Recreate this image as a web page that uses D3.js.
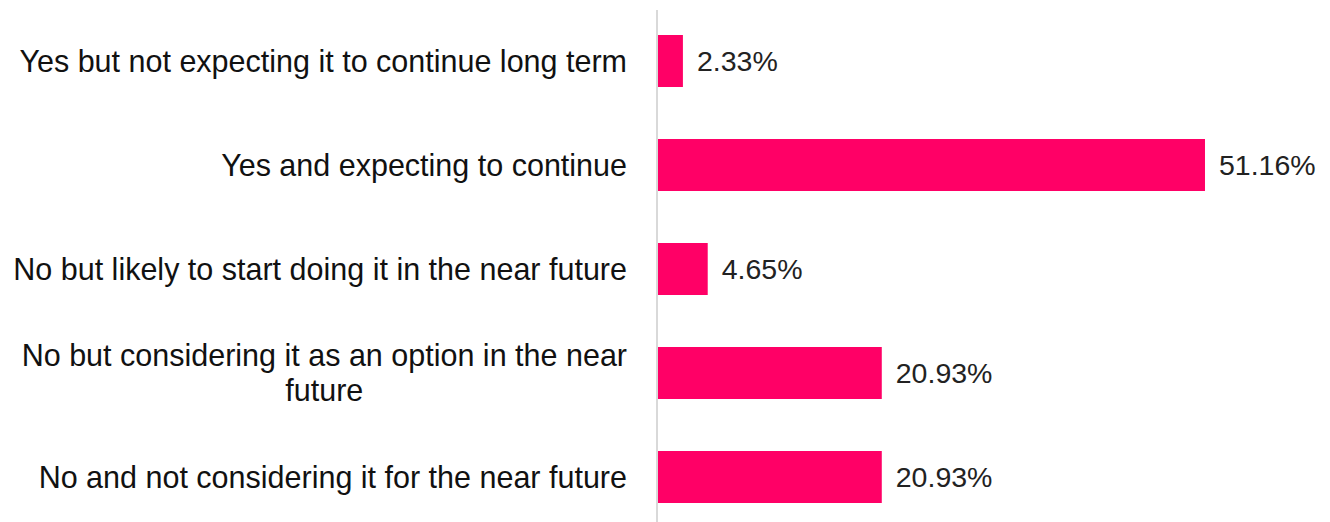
<!DOCTYPE html>
<html>
<head>
<meta charset="utf-8">
<script src="https://cdn.jsdelivr.net/npm/d3@7"></script>
<style>
  body { margin: 0; background: #fff; }
</style>
</head>
<body>
<div id="chart"></div>
<script>
const categories = [
  "Yes but not expecting it to continue long term",
  "Yes and expecting to continue",
  "No but likely to start doing it in the near future",
  "No but considering it as an option in the near future",
  "No and not considering it for the near future"
];
const values = [2.33, 51.16, 4.65, 20.93, 20.93];

const width = 1330;
const height = 522;
const axisX = 658;
const labelRight = 627;
const maxLabelWidth = 618;
const fontFamily = "Liberation Sans, Arial, sans-serif";
const labelSize = 30.5;
const valueSize = 28.5;

const svg = d3.select("#chart")
  .append("svg")
  .attr("width", width)
  .attr("height", height);

const y = d3.scaleBand()
  .domain(categories)
  .range([9, 529])
  .paddingInner(0.5)
  .paddingOuter(0.25);

const x = d3.scaleLinear()
  .domain([0, 60])
  .range([axisX, axisX + 641.5]);

// bars
svg.append("g")
  .selectAll("rect")
  .data(values)
  .join("rect")
  .attr("x", x(0))
  .attr("y", (d, i) => y(categories[i]))
  .attr("width", (d) => x(d) - x(0))
  .attr("height", y.bandwidth())
  .attr("fill", "#ff0066");

// axis line
svg.append("line")
  .attr("x1", axisX - 1)
  .attr("x2", axisX - 1)
  .attr("y1", 10)
  .attr("y2", 522)
  .attr("stroke", "#d9d9d9")
  .attr("stroke-width", 2);

// value labels
svg.append("g")
  .selectAll("text")
  .data(values)
  .join("text")
  .attr("x", (d) => x(d) + 14)
  .attr("y", (d, i) => y(categories[i]) + y.bandwidth() / 2)
  .attr("dy", "0.35em")
  .attr("font-family", fontFamily)
  .attr("font-size", valueSize)
  .attr("fill", "#222")
  .text((d) => d.toFixed(2) + "%");

// category labels, wrapped if too wide
const labelGroup = svg.append("g");
categories.forEach((c) => {
  const cy = y(c) + y.bandwidth() / 2;
  const t = labelGroup.append("text")
    .attr("font-family", fontFamily)
    .attr("font-size", labelSize)
    .attr("fill", "#111");

  const words = c.split(" ");
  const lines = [];
  let line = [];
  const probe = t.append("tspan");
  words.forEach((w) => {
    line.push(w);
    probe.text(line.join(" "));
    if (probe.node().getComputedTextLength() > maxLabelWidth && line.length > 1) {
      line.pop();
      lines.push(line.join(" "));
      line = [w];
    }
  });
  lines.push(line.join(" "));
  probe.remove();

  const lineHeight = 35;
  if (lines.length === 1) {
    t.attr("text-anchor", "end")
      .append("tspan")
      .attr("x", labelRight)
      .attr("y", cy)
      .attr("dy", "0.35em")
      .text(lines[0]);
  } else {
    // measure widest line, center lines within it
    let maxW = 0;
    lines.forEach((l) => {
      const m = t.append("tspan").text(l);
      maxW = Math.max(maxW, m.node().getComputedTextLength());
      m.remove();
    });
    const cx = labelRight - maxW / 2;
    t.attr("text-anchor", "middle");
    lines.forEach((l, i) => {
      t.append("tspan")
        .attr("x", cx)
        .attr("y", cy + (i - (lines.length - 1) / 2) * lineHeight)
        .attr("dy", "0.35em")
        .text(l);
    });
  }
});
</script>
</body>
</html>
